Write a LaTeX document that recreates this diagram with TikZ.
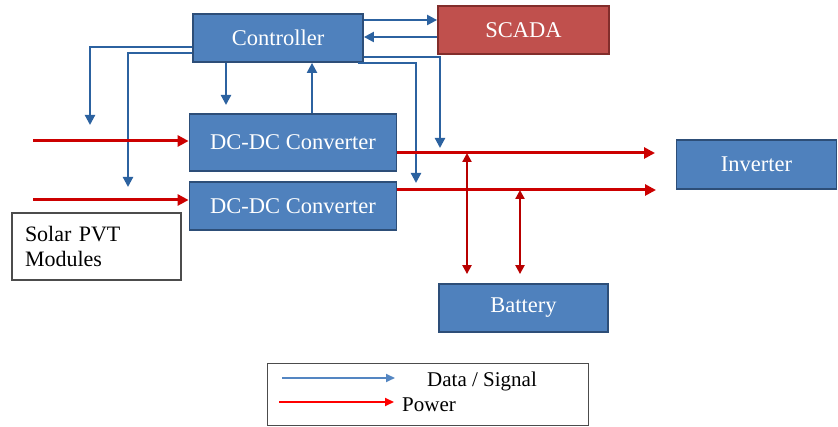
\documentclass[tikz,border=0pt]{standalone}
\usepackage{fontspec}
\setmainfont{Liberation Serif}
\usepackage{xcolor}
\usetikzlibrary{arrows.meta,positioning,calc}

\definecolor{boxblue}{RGB}{79,129,189}
\definecolor{boxedge}{RGB}{45,78,120}
\definecolor{scadared}{RGB}{192,80,77}
\definecolor{scadaedge}{RGB}{130,45,43}
\definecolor{sigblue}{RGB}{44,98,160}
\definecolor{legblue}{RGB}{84,134,194}
\definecolor{powred}{RGB}{204,0,0}

\begin{document}
\begin{tikzpicture}[x=1pt,y=-1pt,
  blk/.style={draw=boxedge,line width=1.8pt,fill=boxblue,text=white,inner sep=0pt,
    font=\fontsize{22.5}{26}\selectfont},
  sig/.style={draw=sigblue,line width=2.2pt,-{Triangle[length=10pt,width=10pt]}},
  pow/.style={draw=powred,line width=3pt,-{Triangle[length=11pt,width=11pt]}},
  batline/.style={draw=powred!90!black,line width=2.2pt,
    {Triangle[length=9pt,width=9pt]}-{Triangle[length=9pt,width=9pt]}}]
  \useasboundingbox (0,0) rectangle (838,427);

  % blocks
  \node[blk,minimum width=170pt,minimum height=48pt] (ctrl) at (278,38) {Controller};
  \node[blk,draw=scadaedge,fill=scadared,minimum width=171pt,minimum height=48pt] (scada) at (523.5,30) {SCADA};
  \node[blk,minimum width=207pt,minimum height=57pt] (dc1) at (293,142.5) {DC-DC Converter};
  \node[blk,minimum width=207pt,minimum height=48pt] (dc2) at (293,206) {DC-DC Converter};
  \node[blk,minimum width=160pt,minimum height=49pt] (inv) at (756.5,164.5) {Inverter};
  \node[blk,minimum width=169pt,minimum height=48pt] (bat) at (523.5,308) {Battery};
  \node[draw=black!70,line width=1.2pt,fill=white,minimum width=169pt,minimum height=67pt,
    text width=143pt,align=left,inner xsep=13pt,font=\fontsize{22}{25}\selectfont] (pvt) at (96.5,246.5) {Solar PVT\\Modules};

  % controller <-> scada
  \draw[sig] ([yshift=18pt]ctrl.east) coordinate (cs) -- (cs -| scada.west);
  \draw[sig] ([yshift=-7pt]scada.west) coordinate (sc) -- (sc -| ctrl.east);

  % control signals
  \coordinate (sA) at (90,125);
  \coordinate (sB) at (128,187);
  \coordinate (sC) at (440,148);
  \coordinate (sD) at (416,183);
  \coordinate (sE) at (226,105);
  \draw[sig] ([yshift=-9pt]ctrl.west) -| (sA);
  \draw[sig] ([yshift=-15pt]ctrl.west) -| (sB);
  \draw[sig] ([yshift=-19pt]ctrl.east) -| (sC);
  \draw[sig] ([xshift=-6pt]ctrl.south east) -| (sD);
  \draw[sig] (ctrl.south -| sE) -- (sE);
  \draw[sig] ([xshift=19pt]dc1.north) coordinate (up) -- (up |- ctrl.south);

  % power
  \coordinate (in1) at (33,141);
  \coordinate (in2) at (33,200);
  \coordinate (o1) at (655,153);
  \coordinate (o2) at (656,190);
  \draw[pow] (in1) -- (in1 -| dc1.west);
  \draw[pow] (in2) -- (in2 -| dc2.west);
  \draw[pow] (o1 -| dc1.east) -- (o1);
  \draw[pow] (o2 -| dc2.east) -- (o2);
  \coordinate (j1) at (467,153);
  \coordinate (j2) at (520,190);
  \coordinate (bt) at ([yshift=9pt]bat.north);
  \draw[batline] (j1) -- (j1 |- bt);
  \draw[batline] (j2) -- (j2 |- bt);

  % legend
  \node[draw=black!70,line width=1pt,minimum width=321pt,minimum height=61pt] (leg) at (427.5,394.5) {};
  \coordinate (ls1) at (282,378);
  \coordinate (le1) at (395,378);
  \coordinate (ls2) at (279,402);
  \coordinate (le2) at (394,402);
  \draw[sig,draw=legblue,line width=1.8pt,-{Triangle[length=9pt,width=8pt]}] (ls1) -- (le1);
  \draw[pow,draw=red,line width=2pt,-{Triangle[length=9pt,width=8pt]}] (ls2) -- (le2);
  \node[anchor=base west,inner sep=0pt,font=\fontsize{21}{24}\selectfont] (lsig) at (427,387) {Data / Signal};
  \node[anchor=base west,inner sep=0pt,font=\fontsize{21}{24}\selectfont] (lpow) at (402,412) {Power};
\end{tikzpicture}
\end{document}
